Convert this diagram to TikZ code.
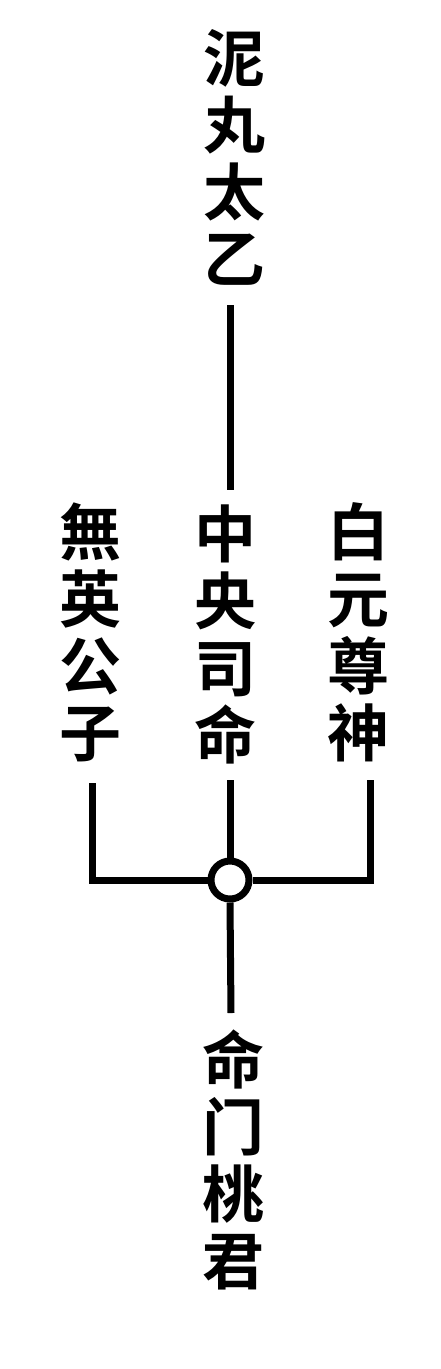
\documentclass[tikz,border=0pt]{standalone}
\usepackage{fontspec}
\newfontfamily\cjk{Noto Sans CJK SC}[BoldFont=* Bold]
\begin{document}
\begin{tikzpicture}[x=1pt,y=-1pt,
  col/.style={align=center,inner sep=0pt,font=\cjk\bfseries\fontsize{62}{67}\selectfont},
  ln/.style={line width=7pt}]
\useasboundingbox (0,0) rectangle (441,1369);
\node[col] (top) at (234,157) {泥\\丸\\太\\乙};
\node[col] (left) at (90,632) {無\\英\\公\\子};
\node[col] (mid) at (225,634) {中\\央\\司\\命};
\node[col] (right) at (358,632) {白\\元\\尊\\神};
\node[col] (bot) at (233,1160) {命\\门\\桃\\君};
\node[circle,draw,ln,minimum size=38pt,inner sep=0pt] (hub) at (230,880) {};
\coordinate (t1) at (230,305);
\coordinate (t2) at (230,490);
\coordinate (m1) at (230,780);
\coordinate (l1) at (92,783);
\coordinate (l2) at (92,880);
\coordinate (r1) at (370,780);
\coordinate (r2) at (370,880);
\coordinate (b1) at (231,1013);
\draw[ln] (t1) -- (t2);
\draw[ln] (m1) -- (hub.north);
\draw[ln] (l1) -- (l2) -- (hub.west);
\draw[ln] (r1) -- (r2) -- (hub.east);
\draw[ln] (hub.south) -- (b1);
\end{tikzpicture}
\end{document}
